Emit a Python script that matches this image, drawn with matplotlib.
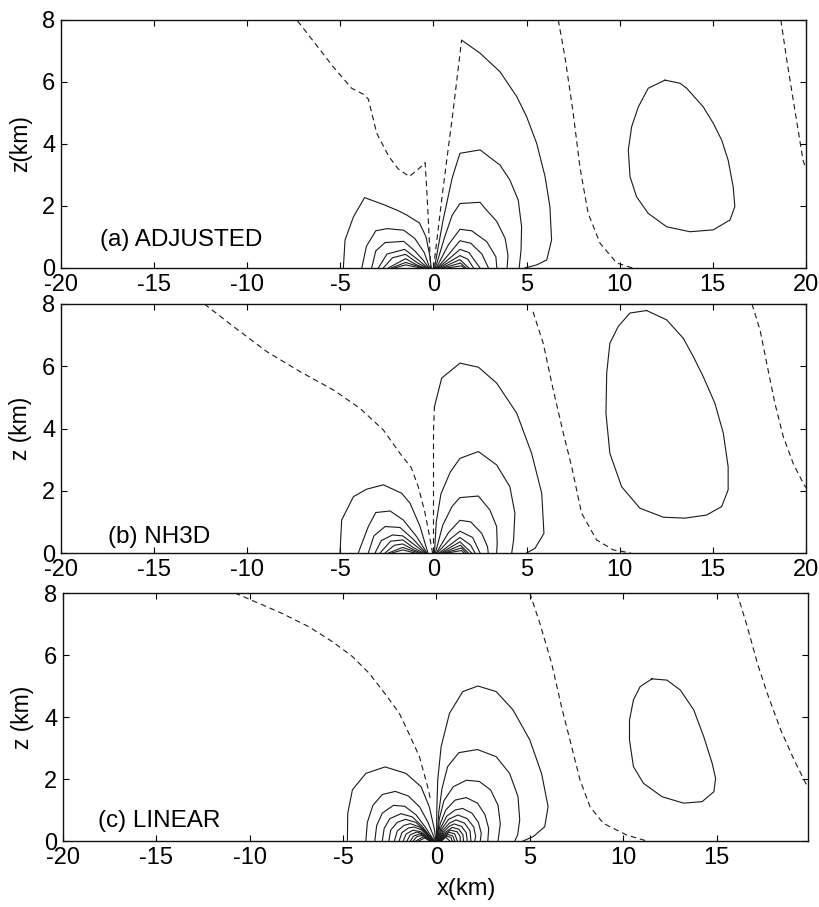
import matplotlib
matplotlib.use("Agg")
import matplotlib.pyplot as plt

plt.rcParams['font.family'] = ['Liberation Sans', 'DejaVu Sans']
plt.rcParams['axes.unicode_minus'] = False

# ---------------- data: contour polylines (x km, z km) ----------------
X_TICKS_AB = [-20, -15, -10, -5, 0, 5, 10, 15, 20]
X_TICKS_C = [-20, -15, -10, -5, 0, 5, 10, 15]
Z_TICKS = [0, 2, 4, 6, 8]
PANEL_LABELS = ["(a) ADJUSTED", "(b) NH3D", "(c) LINEAR"]
Z_LABELS = ["z(km)", "z (km)", "z (km)"]

# ---- panel (a) ----
A_SOLID = [
    [(1.51, 7.35), (2.5, 6.93), (3.57, 6.33), (4.47, 5.53), (5.0, 4.88), (5.54, 4.02), (5.99, 2.95),
     (6.25, 1.98), (6.34, 0.9), (6.08, 0.26), (5.54, 0.1), (4.9, 0.0)],
    [(0.05, 0), (0.5, 1.5), (1.0, 2.9), (1.42, 3.7), (2.5, 3.81), (3.57, 3.32), (4.1, 2.84), (4.55, 2.19),
     (4.73, 1.33), (4.7, 0.58), (4.6, 0)],
    [(0.1, 0), (0.6, 1.0), (1.0, 1.7), (1.42, 2.08), (2.5, 2.12), (2.8, 1.9), (3.4, 1.5), (3.85, 0.95),
     (4.0, 0.4), (3.95, 0)],
    [(0.15, 0), (0.8, 0.75), (1.42, 1.25), (2.05, 1.2), (2.86, 0.85), (3.35, 0.36), (3.4, 0)],
    [(0.2, 0), (0.9, 0.5), (1.42, 0.88), (2.0, 0.8), (2.6, 0.45), (2.95, 0)],
    [(0.25, 0), (1.0, 0.38), (1.42, 0.6), (1.9, 0.5), (2.5, 0)],
    [(0.3, 0), (1.42, 0.4), (1.85, 0.28), (2.15, 0)],
    [(0.4, 0), (1.42, 0.27), (1.9, 0)],
    [(0.5, 0), (1.45, 0.16), (1.75, 0)],
    [(0.7, 0), (1.5, 0.07), (1.65, 0)],
    [(-4.84, 0), (-4.75, 0.9), (-4.3, 1.65), (-3.7, 2.27), (-2.7, 2.05), (-1.9, 1.85), (-1.44, 1.71),
     (-0.75, 1.45), (-0.4, 1.0), (-0.2, 0.4), (-0.12, 0)],
    [(-3.85, 0), (-3.6, 0.7), (-3.1, 1.2), (-2.5, 1.27), (-1.6, 1.22), (-1.0, 0.95), (-0.5, 0.5), (-0.2, 0)],
    [(-3.32, 0), (-3.1, 0.55), (-2.6, 0.82), (-1.6, 0.86), (-1.0, 0.55), (-0.55, 0.25), (-0.25, 0)],
    [(-2.96, 0), (-2.5, 0.45), (-1.55, 0.6), (-0.9, 0.3), (-0.3, 0)],
    [(-2.7, 0), (-2.2, 0.33), (-1.5, 0.44), (-0.9, 0.18), (-0.35, 0)],
    [(-2.43, 0), (-1.5, 0.3), (-0.9, 0.1), (-0.45, 0)],
    [(-2.26, 0), (-1.5, 0.18), (-0.55, 0)],
    [(-2.1, 0), (-1.5, 0.1), (-0.7, 0)],
    [(12.43, 6.06), (11.53, 5.8), (11.0, 5.2), (10.64, 4.56), (10.46, 3.81), (10.55, 2.95), (10.9, 2.3),
     (11.53, 1.76), (12.52, 1.33), (13.77, 1.17), (15.02, 1.23), (15.92, 1.55), (16.18, 1.98),
     (16.09, 2.62), (15.82, 3.48), (15.47, 4.13), (15.02, 4.67), (14.48, 5.2), (13.59, 5.8),
     (13.23, 5.96), (12.43, 6.06)],
]
A_DASHED = [
    [(-7.3, 7.97), (-6.3, 7.2), (-5.4, 6.5), (-4.4, 5.8), (-3.75, 5.6), (-3.5, 5.45), (-3.05, 4.35),
     (-2.4, 3.6), (-1.9, 3.2), (-1.3, 2.95), (-0.7, 3.25), (-0.45, 3.4), (-0.35, 2.4), (-0.25, 1.2),
     (-0.15, 0)],
    [(0.0, 0.0), (0.5, 2.5), (1.06, 5.1), (1.51, 7.35)],
    [(6.7, 8.0), (7.06, 6.8), (7.5, 5.0), (7.86, 3.26), (8.3, 1.77), (8.94, 0.8), (9.84, 0.16), (10.7, 0.0)],
    [(18.65, 8.0), (18.97, 6.7), (19.4, 5.1), (19.84, 3.48), (20.0, 3.2)],
]

# ---- panel (b) ----
B_SOLID = [
    [(0.05, 4.7), (0.44, 5.62), (1.42, 6.1), (2.41, 5.97), (3.39, 5.46), (4.47, 4.49), (5.27, 3.2),
     (5.81, 1.92), (5.93, 0.63), (5.45, 0.15), (5.0, 0)],
    [(0.05, 0), (0.15, 1.0), (0.4, 1.9), (0.9, 2.6), (1.42, 3.04), (2.41, 3.26), (3.39, 2.83), (4.1, 2.13),
     (4.37, 1.28), (4.3, 0.42), (4.2, 0)],
    [(0.1, 0), (0.5, 0.9), (1.0, 1.5), (1.42, 1.78), (2.41, 1.83), (3.03, 1.38), (3.39, 0.85), (3.42, 0.3),
     (3.39, 0)],
    [(0.15, 0), (0.8, 0.65), (1.42, 1.05), (2.0, 1.0), (2.59, 0.63), (2.9, 0.2), (2.94, 0)],
    [(0.2, 0), (0.9, 0.45), (1.42, 0.7), (2.1, 0.5), (2.5, 0)],
    [(0.3, 0), (1.42, 0.5), (2.0, 0.25), (2.23, 0)],
    [(0.4, 0), (1.42, 0.36), (2.05, 0)],
    [(0.5, 0), (1.45, 0.25), (1.87, 0)],
    [(0.6, 0), (1.5, 0.16), (1.75, 0)],
    [(0.75, 0), (1.5, 0.08), (1.64, 0)],
    [(-5.02, 0), (-4.93, 1.06), (-4.3, 1.81), (-3.59, 2.05), (-2.69, 2.19), (-1.71, 1.92), (-1.26, 1.6),
     (-0.72, 0.85), (-0.3, 0)],
    [(-4.04, 0), (-3.5, 0.85), (-3.1, 1.3), (-2.33, 1.35), (-1.62, 1.06), (-0.9, 0.52), (-0.35, 0)],
    [(-3.5, 0), (-3.2, 0.55), (-2.6, 0.85), (-1.8, 0.82), (-1.1, 0.45), (-0.4, 0)],
    [(-3.14, 0), (-2.8, 0.4), (-2.2, 0.58), (-1.65, 0.55), (-1.1, 0.3), (-0.45, 0)],
    [(-2.87, 0), (-2.3, 0.38), (-1.65, 0.42), (-1.1, 0.18), (-0.55, 0)],
    [(-2.6, 0), (-2.1, 0.25), (-1.65, 0.29), (-1.0, 0.08), (-0.65, 0)],
    [(-2.42, 0), (-1.65, 0.18), (-0.8, 0)],
    [(-2.24, 0), (-1.65, 0.1), (-1.0, 0)],
    [(11.44, 7.79), (10.55, 7.71), (9.92, 7.28), (9.47, 6.74), (9.3, 5.78), (9.26, 4.49), (9.47, 3.2),
     (10.1, 2.13), (11.08, 1.44), (12.34, 1.15), (13.5, 1.12), (14.66, 1.22), (15.47, 1.49),
     (15.82, 2.03), (15.82, 2.77), (15.56, 3.85), (15.11, 4.81), (14.48, 5.67), (13.95, 6.31),
     (13.41, 6.9), (12.52, 7.49), (11.44, 7.79)],
]
B_DASHED = [
    [(-12.3, 8.0), (-10.75, 7.28), (-8.95, 6.47), (-7.17, 5.83), (-5.38, 5.24), (-3.95, 4.65),
     (-2.69, 3.95), (-1.8, 3.2), (-1.2, 2.75), (-0.82, 2.13), (-0.46, 1.3), (-0.2, 0.5), (-0.05, 0)],
    [(0.0, 0.0), (0.0, 3.9), (0.05, 4.7)],
    [(5.35, 7.75), (5.45, 7.55), (5.89, 6.74), (6.43, 5.24), (6.97, 3.85), (7.42, 2.77), (7.95, 1.28),
     (8.76, 0.42), (9.65, 0.1), (10.6, 0.0)],
    [(17.1, 8.0), (17.53, 7.17), (17.89, 6.1), (18.33, 4.81), (18.78, 3.74), (19.31, 2.88),
     (19.85, 2.24), (20.0, 2.1)],
]

# ---- panel (c) ----
C_SOLID = [
    [(0.0, 0), (0.02, 1.0), (0.07, 1.97), (0.25, 3.04), (0.7, 4.12), (1.41, 4.82), (2.22, 5.0), (3.2, 4.82),
     (4.1, 4.23), (5.0, 3.26), (5.63, 2.18), (5.98, 1.11), (5.8, 0.46), (5.18, 0.14), (4.64, 0)],
    [(0.03, 0), (0.12, 0.9), (0.3, 1.7), (0.6, 2.4), (1.2, 2.85), (2.2, 2.95), (3.2, 2.72), (3.92, 2.18),
     (4.37, 1.43), (4.46, 0.68), (4.35, 0.2), (4.2, 0)],
    [(0.05, 0), (0.15, 0.7), (0.4, 1.3), (0.9, 1.75), (1.6, 1.96), (2.3, 1.92), (2.9, 1.65), (3.3, 1.15),
     (3.42, 0.55), (3.3, 0)],
    [(0.06, 0), (0.2, 0.55), (0.5, 1.0), (1.0, 1.32), (1.6, 1.4), (2.2, 1.22), (2.6, 0.85), (2.8, 0.4),
     (2.75, 0)],
    [(0.08, 0), (0.25, 0.45), (0.55, 0.8), (1.0, 1.0), (1.4, 1.05), (1.9, 0.9), (2.25, 0.6), (2.4, 0.25),
     (2.35, 0)],
    [(0.1, 0), (0.3, 0.4), (0.65, 0.7), (1.15, 0.84), (1.65, 0.72), (2.0, 0.45), (2.1, 0.15), (2.05, 0)],
    [(0.12, 0), (0.35, 0.35), (0.7, 0.58), (1.05, 0.68), (1.5, 0.58), (1.8, 0.33), (1.85, 0)],
    [(0.14, 0), (0.35, 0.28), (0.7, 0.48), (0.95, 0.55), (1.35, 0.47), (1.6, 0.26), (1.65, 0)],
    [(0.16, 0), (0.4, 0.25), (0.85, 0.44), (1.2, 0.38), (1.42, 0.2), (1.45, 0)],
    [(0.18, 0), (0.4, 0.2), (0.75, 0.35), (1.1, 0.3), (1.27, 0.15), (1.28, 0)],
    [(0.2, 0), (0.4, 0.16), (0.68, 0.28), (0.98, 0.23), (1.12, 0)],
    [(0.22, 0), (0.42, 0.13), (0.62, 0.21), (0.88, 0.16), (0.98, 0)],
    [(0.24, 0), (0.56, 0.16), (0.78, 0.11), (0.85, 0)],
    [(0.26, 0), (0.5, 0.12), (0.72, 0)],
    [(-4.77, 0), (-4.75, 0.89), (-4.5, 1.65), (-3.78, 2.18), (-2.75, 2.39), (-1.63, 2.18), (-0.82, 1.75),
     (-0.38, 1.1), (-0.1, 0.35), (-0.03, 0)],
    [(-3.78, 0), (-3.7, 0.6), (-3.4, 1.15), (-2.9, 1.5), (-2.2, 1.6), (-1.5, 1.45), (-0.9, 1.1),
     (-0.45, 0.6), (-0.15, 0.15), (-0.05, 0)],
    [(-3.3, 0), (-3.2, 0.5), (-2.9, 0.9), (-2.3, 1.15), (-1.7, 1.12), (-1.1, 0.85), (-0.6, 0.45),
     (-0.2, 0.08), (-0.08, 0)],
    [(-2.9, 0), (-2.8, 0.4), (-2.5, 0.72), (-1.9, 0.88), (-1.3, 0.78), (-0.8, 0.5), (-0.35, 0.15), (-0.1, 0)],
    [(-2.55, 0), (-2.45, 0.35), (-2.1, 0.6), (-1.65, 0.7), (-1.1, 0.6), (-0.6, 0.32), (-0.15, 0)],
    [(-2.25, 0), (-2.1, 0.32), (-1.75, 0.5), (-1.4, 0.56), (-0.9, 0.45), (-0.5, 0.22), (-0.18, 0)],
    [(-2.0, 0), (-1.85, 0.27), (-1.5, 0.42), (-1.2, 0.45), (-0.8, 0.36), (-0.2, 0)],
    [(-1.78, 0), (-1.62, 0.23), (-1.25, 0.35), (-0.85, 0.3), (-0.5, 0.14), (-0.22, 0)],
    [(-1.58, 0), (-1.4, 0.2), (-1.05, 0.29), (-0.7, 0.22), (-0.25, 0)],
    [(-1.4, 0), (-1.22, 0.16), (-0.9, 0.23), (-0.6, 0.16), (-0.28, 0)],
    [(-1.25, 0), (-1.05, 0.14), (-0.78, 0.18), (-0.3, 0)],
    [(-1.1, 0), (-0.7, 0.14), (-0.33, 0)],
    [(-0.95, 0), (-0.62, 0.1), (-0.36, 0)],
    [(11.54, 5.23), (10.91, 4.98), (10.55, 4.55), (10.34, 3.9), (10.34, 3.26), (10.55, 2.4), (11.09, 1.86),
     (12.08, 1.43), (13.24, 1.22), (14.23, 1.27), (14.86, 1.59), (14.95, 2.02), (14.77, 2.5),
     (14.32, 3.36), (13.78, 4.23), (13.06, 4.87), (12.35, 5.19), (11.54, 5.23)],
]
C_DASHED = [
    [(-10.8, 8.0), (-9.52, 7.67), (-8.26, 7.34), (-6.83, 6.91), (-5.57, 6.43), (-4.5, 5.95), (-3.6, 5.41),
     (-2.7, 4.71), (-1.99, 4.12), (-1.5, 3.5), (-0.91, 2.72), (-0.47, 1.75), (-0.3, 1.3)],
    [(5.0, 8.0), (5.54, 7.02), (6.17, 5.73), (6.7, 4.33), (7.15, 3.26), (7.69, 1.97), (8.23, 1.1),
     (8.94, 0.57), (10.2, 0.19), (11.27, 0)],
    [(16.1, 8.0), (16.65, 6.91), (17.19, 5.73), (17.72, 4.76), (18.44, 3.58), (19.16, 2.61),
     (19.78, 1.86), (19.9, 1.75)],
]

# ---------------- drawing ----------------
W, H = 820, 907
fig = plt.figure(figsize=(W / 100, H / 100), dpi=100)


def rect(l, r, t, b):
    return [l / W, 1 - b / H, (r - l) / W, (b - t) / H]


panels = [
    dict(rect=rect(61, 806, 20, 268), xlim=(-20, 20), xt=X_TICKS_AB, solid=A_SOLID, dashed=A_DASHED,
         lab=(-17.9, 0.9)),
    dict(rect=rect(61, 806, 304, 553), xlim=(-20, 20), xt=X_TICKS_AB, solid=B_SOLID, dashed=B_DASHED,
         lab=(-17.5, 0.5)),
    dict(rect=rect(63, 808, 593, 841), xlim=(-20, 19.9), xt=X_TICKS_C, solid=C_SOLID, dashed=C_DASHED,
         lab=(-18.1, 0.65)),
]

LC = '#1a1a1a'
for i, p in enumerate(panels):
    ax = fig.add_axes(p['rect'])
    for line in p['solid']:
        xs, zs = zip(*line)
        ax.plot(xs, zs, color=LC, lw=0.8)
    for line in p['dashed']:
        xs, zs = zip(*line)
        ax.plot(xs, zs, color=LC, lw=0.8, dashes=(5, 3.5))
    ax.set_xlim(*p['xlim'])
    ax.set_ylim(0, 8)
    ax.set_xticks(p['xt'])
    ax.set_yticks(Z_TICKS)
    ax.tick_params(direction='in', top=True, right=True, length=4, width=0.8, labelsize=17, pad=4)
    for s in ax.spines.values():
        s.set_linewidth(1.0)
        s.set_color('#111111')
    ax.set_ylabel(Z_LABELS[i], fontsize=16.5, labelpad=7)
    ax.text(p['lab'][0], p['lab'][1], PANEL_LABELS[i], fontsize=17.5, ha='left', va='center')
    ax.patch.set_alpha(0)

fig.text(466 / W, 1 - 889 / H, "x(km)", fontsize=17, ha='center', va='center')

fig.savefig("out.png", dpi=100)
